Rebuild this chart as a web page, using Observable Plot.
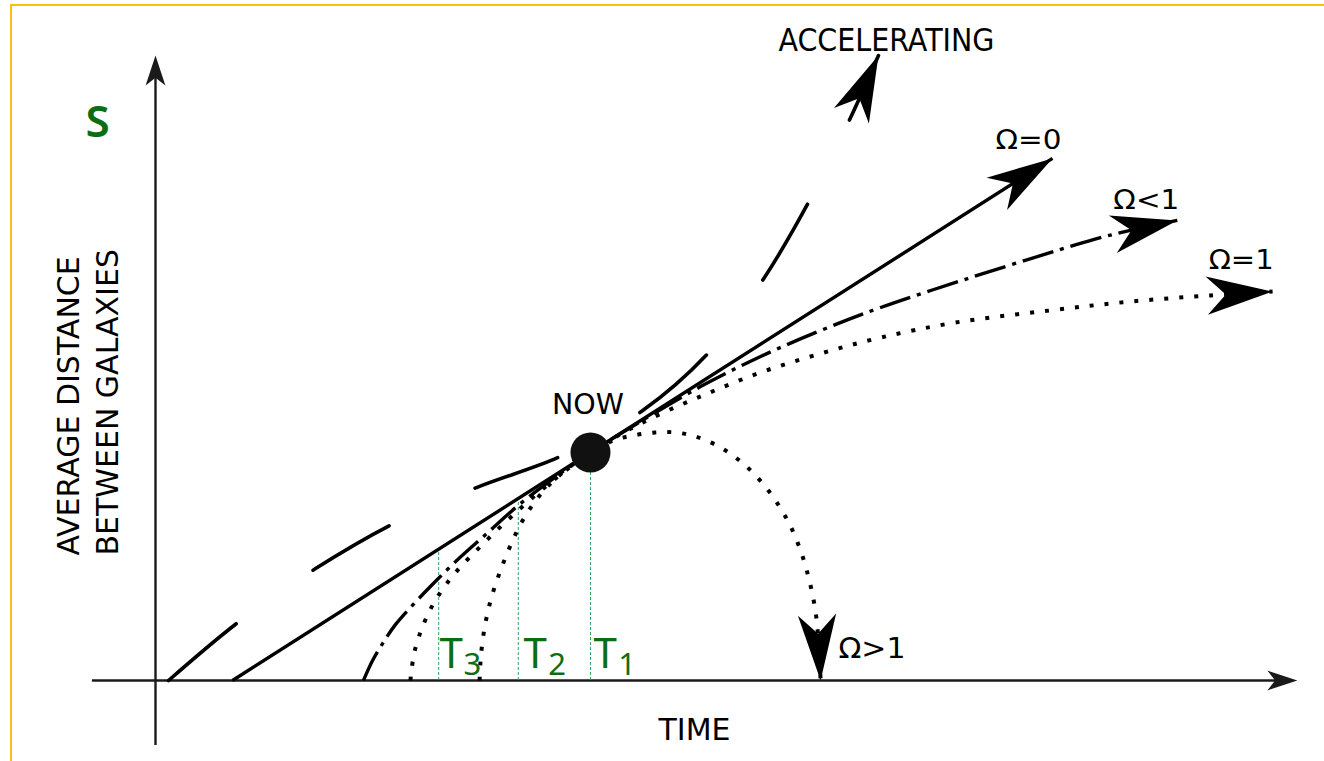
<!DOCTYPE html>
<html>
<head>
<meta charset="utf-8">
<script src="https://cdn.jsdelivr.net/npm/d3@7"></script>
<script src="https://cdn.jsdelivr.net/npm/@observablehq/plot@0.6"></script>
<style>
  html, body { margin: 0; padding: 0; background: #fff; }
  #chart { position: relative; width: 1324px; height: 761px; overflow: hidden; }
  #chart svg { display: block; }
  #edge {
    position: absolute; left: 10px; top: 4px; right: -10px; bottom: -10px;
    border-top: 2px solid #fbbf14; border-left: 2px solid #fbbf14;
    pointer-events: none;
  }
</style>
</head>
<body>
<div id="chart"><div id="edge"></div></div>
<script>
// Time t in units of the present age (t = 1 is now);
// S is the average distance between galaxies, normalised to 1 today.

// Ω = 0: empty universe, expansion never slows
const emptyT = [0.177, 1, 2.062];
const emptyS = [0, 1, 2.29];

// Ω < 1: open universe
const openT = [0.478, 0.499, 0.522, 0.552, 0.586, 0.632, 0.690, 0.759, 0.834, 0.908, 1,
               1.115, 1.253, 1.391, 1.529, 1.667, 1.867, 2.051, 2.156, 2.241, 2.349];
const openS = [0, 0.088, 0.162, 0.246, 0.320, 0.412, 0.522, 0.640, 0.768, 0.877, 1,
               1.136, 1.289, 1.421, 1.535, 1.636, 1.763, 1.873, 1.934, 1.974, 2.018];

// Ω = 1: critical density
const flatT = [0.586, 0.595, 0.616, 0.646, 0.690, 0.747, 0.816, 0.903, 1,
               1.115, 1.253, 1.391, 1.529, 1.667, 1.839, 2.057, 2.241, 2.425, 2.568];
const flatS = [0, 0.123, 0.246, 0.360, 0.474, 0.588, 0.715, 0.860, 1,
               1.127, 1.246, 1.351, 1.434, 1.504, 1.570, 1.623, 1.662, 1.689, 1.706];

// Ω > 1: closed universe, expansion halts and reverses
const closedT = [0.745, 0.747, 0.752, 0.761, 0.775, 0.793, 0.816, 0.844, 0.885, 0.936, 1,
                 1.053, 1.099, 1.149, 1.195, 1.241, 1.299, 1.356, 1.409, 1.453, 1.483,
                 1.503, 1.517, 1.524, 1.529];
const closedS = [0, 0.079, 0.175, 0.276, 0.382, 0.482, 0.592, 0.702, 0.816, 0.912, 1,
                 1.053, 1.075, 1.088, 1.088, 1.070, 1.022, 0.943, 0.833, 0.702, 0.570,
                 0.439, 0.307, 0.175, 0];

// Accelerating expansion
const accelT = [0.030, 0.195, 0.368, 0.552, 0.738, 0.936, 1.120, 1.276, 1.400, 1.506, 1.598, 1.662];
const accelS = [0, 0.263, 0.491, 0.693, 0.846, 0.987, 1.184, 1.447, 1.768, 2.114, 2.469, 2.741];

// The present moment
const nowT = [1];
const nowS = [1];

// Ages T1..T3 read back from the models, with the height where each marker stops
const ageT = [1, 0.834, 0.651];
const ageTopS = [1, 0.798, 0.576];
const ageSub = ["1", "2", "3"];

// Axis extents
const timeAxisT = [-0.145, 2.625];
const sizeAxisS = [-0.285, 2.741];

// Annotation texts and their anchors (data units)
const curveLabels = ["Ω=0", "Ω<1", "Ω=1", "Ω>1"];
const curveLabelT = [1.931, 2.202, 2.421, 1.570];
const curveLabelS = [2.333, 2.070, 1.803, 0.0965];
const ageLabelT = [1.007, 0.846, 0.653];
const ageSubT = [1.064, 0.903, 0.708];
const ageLabelS = 0.057;
const ageSubS = 0.022;
const yTitle = ["AVERAGE DISTANCE", "BETWEEN GALAXIES"];
const yTitleT = [-0.177, -0.087];
const yTitleS = 0.548;

// ---------------------------------------------------------------------------
const xRange = [155, 590];
const yRange = [680, 452];
const px = d3.scaleLinear([0, 1], xRange);
const py = d3.scaleLinear([0, 1], yRange);

const pairs = (T, S) => T.map((t, i) => ({t, s: S[i]}));

// Tip of a series and its heading in screen degrees (clockwise)
function tip(T, S) {
  const n = T.length;
  const a = Math.atan2(py(S[n - 1]) - py(S[n - 2]), px(T[n - 1]) - px(T[n - 2])) * 180 / Math.PI;
  return {t: T[n - 1], s: S[n - 1], angle: a};
}

// Swallow-tail arrowhead pointing along +x with its tip at the origin
function arrowhead(halfWidth, notch) {
  return {
    draw(context, size) {
      const L = Math.sqrt(size / Math.PI);
      context.moveTo(0, 0);
      context.lineTo(-L, -halfWidth * L);
      context.lineTo(-(1 - notch) * L, 0);
      context.lineTo(-L, halfWidth * L);
      context.closePath();
    }
  };
}

const curveTips = [
  tip(emptyT, emptyS), tip(openT, openS), tip(flatT, flatS),
  tip(closedT, closedS), tip(accelT, accelS)
];
const axisTips = [
  {t: timeAxisT[1], s: 0, angle: 0},
  {t: 0, s: sizeAxisS[1], angle: -90}
];

const ink = "#000";
const darkGreen = "#0c6e12";
const lightGreen = "#2fa35c";
const sans = "DejaVu Sans";

const plot = Plot.plot({
  width: 1324,
  height: 761,
  margin: 0,
  style: {background: "transparent"},
  x: {type: "linear", domain: [0, 1], range: xRange, axis: null},
  y: {type: "linear", domain: [0, 1], range: yRange, axis: null},
  marks: [
    // axes
    Plot.ruleY([0], {x1: timeAxisT[0], x2: timeAxisT[1] - 0.04, stroke: "#1a1a1a", strokeWidth: 2.4}),
    Plot.ruleX([0], {y1: sizeAxisS[0], y2: sizeAxisS[1] - 0.08, stroke: "#1a1a1a", strokeWidth: 2.4}),
    Plot.dot(axisTips, {x: "t", y: "s", rotate: "angle", r: 30, symbol: arrowhead(0.33, 0.26), fill: "#1a1a1a", stroke: "none"}),

    // age markers
    Plot.ruleX(ageT, {x: d => d, y1: 0, y2: (d, i) => ageTopS[i], stroke: lightGreen, strokeWidth: 1, strokeDasharray: "3,2"}),

    // expansion histories
    Plot.line(pairs(emptyT, emptyS), {x: "t", y: "s", stroke: ink, strokeWidth: 3.4, strokeLinecap: "butt"}),
    Plot.line(pairs(openT, openS), {x: "t", y: "s", curve: "catmull-rom", stroke: ink, strokeWidth: 3.4,
      strokeLinecap: "butt", strokeDasharray: "32,7,4,7"}),
    Plot.line(pairs(flatT, flatS), {x: "t", y: "s", curve: "catmull-rom", stroke: ink, strokeWidth: 4,
      strokeLinecap: "butt", strokeDasharray: "4,11"}),
    Plot.line(pairs(closedT, closedS), {x: "t", y: "s", curve: "catmull-rom", stroke: ink, strokeWidth: 4,
      strokeLinecap: "butt", strokeDasharray: "4,11"}),
    Plot.line(pairs(accelT, accelS), {x: "t", y: "s", curve: "catmull-rom", stroke: ink, strokeWidth: 3.6,
      strokeLinecap: "round", strokeDasharray: "88,94"}),
    Plot.dot(curveTips, {x: "t", y: "s", rotate: "angle", r: 66, symbol: arrowhead(0.29, 0.29), fill: ink, stroke: "none"}),

    // now
    Plot.dot(nowT, {x: d => d, y: (d, i) => nowS[i], r: 20, fill: "#111", stroke: "none"}),
    Plot.text(["NOW"], {x: nowT[0] - 0.006, y: nowS[0] + 0.171, text: d => d, textAnchor: "middle", lineAnchor: "bottom",
      fontSize: 27.5, fontFamily: sans, fill: ink}),

    // curve labels
    Plot.text(curveLabels, {x: (d, i) => curveLabelT[i], y: (d, i) => curveLabelS[i], text: d => d,
      textAnchor: "start", lineAnchor: "bottom", fontSize: (d, i) => (i === 3 ? 28 : 26.5), fontFamily: sans, fill: ink}),
    Plot.text(["ACCELERATING"], {x: 1.432, y: 2.763, text: d => d, textAnchor: "start", lineAnchor: "bottom",
      fontSize: 32.5, fontFamily: sans, fill: ink}),

    // age labels
    Plot.text(ageT, {x: (d, i) => ageLabelT[i], y: ageLabelS, text: () => "T", textAnchor: "start", lineAnchor: "bottom",
      fontSize: 42, fontFamily: "Noto Sans", fill: darkGreen}),
    Plot.text(ageT, {x: (d, i) => ageSubT[i], y: ageSubS, text: (d, i) => ageSub[i], textAnchor: "start", lineAnchor: "bottom",
      fontSize: 31, fontFamily: "Noto Sans", fill: darkGreen}),

    // axis titles
    Plot.text(["TIME"], {x: 1.239, y: -0.263, text: d => d, textAnchor: "middle", lineAnchor: "bottom",
      fontSize: 30, fontFamily: sans, fill: ink}),
    Plot.text(yTitle, {x: (d, i) => yTitleT[i], y: yTitleS, text: d => d, rotate: -90, textAnchor: "start",
      lineAnchor: "bottom", fontSize: 30, fontFamily: sans, fill: ink}),
    Plot.text(["S"], {x: -0.133, y: 2.382, text: d => d, textAnchor: "middle", lineAnchor: "bottom",
      fontSize: 44, fontWeight: 600, fontFamily: "Noto Sans", fill: darkGreen})
  ]
});

// Stretch or squeeze a few labels to their set widths
const setWidths = new Map([["ACCELERATING", 216], ["NOW", 72], ["Ω=0", 66], ["Ω<1", 66], ["Ω=1", 65], ["Ω>1", 67]]);
plot.querySelectorAll("text").forEach(el => {
  const w = setWidths.get(el.textContent);
  if (w) {
    el.setAttribute("textLength", w);
    el.setAttribute("lengthAdjust", "spacingAndGlyphs");
  }
});

document.getElementById("chart").prepend(plot);
</script>
</body>
</html>
